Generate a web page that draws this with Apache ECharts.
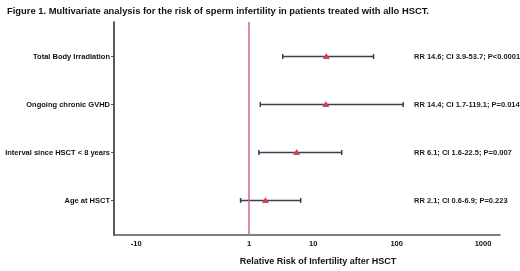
<!DOCTYPE html>
<html>
<head>
<meta charset="utf-8">
<script src="https://cdn.jsdelivr.net/npm/echarts@6/dist/echarts.min.js"></script>
<style>
  html, body { margin: 0; padding: 0; background: #fff; }
  #chart { width: 520px; height: 271px; }
</style>
</head>
<body>
<div id="chart"></div>
<script>
const factors = ['Total Body Irradiation', 'Ongoing chronic GVHD', 'Interval since HSCT < 8 years', 'Age at HSCT']
const rr = [14.6, 14.4, 6.1, 2.1]
const ciLow = [3.9, 1.7, 1.6, 0.6]
const ciHigh = [53.7, 119.1, 22.5, 6.9]
const notes = [
  'RR 14.6; CI 3.9-53.7; P<0.0001',
  'RR 14.4; CI 1.7-119.1; P=0.014',
  'RR 6.1; CI 1.6-22.5; P=0.007',
  'RR 2.1; CI 0.6-6.9; P=0.223'
]
const tickValues = [-0.9, 1, 10, 100, 1000]
const tickLabels = ['-10', '1', '10', '100', '1000']

// the source plot uses a log(x + 1) axis
const shift = v => v + 1
const FONT = 'Liberation Sans'
const NOTE_AT = 160

const chart = echarts.init(document.getElementById('chart'))

const rows = factors.map((f, i) => [shift(ciLow[i]), shift(rr[i]), shift(ciHigh[i]), i])

function renderItem(params, api) {
  const row = api.value(3)
  const lo = api.coord([api.value(0), row])
  const mid = api.coord([api.value(1), row])
  const hi = api.coord([api.value(2), row])
  const txt = api.coord([NOTE_AT, row])
  const cap = 2.5
  const s = 3.5
  const barStyle = { stroke: '#3a3f55', lineWidth: 1.5 }
  return {
    type: 'group',
    children: [
      { type: 'line', shape: { x1: lo[0], y1: lo[1], x2: hi[0], y2: hi[1] }, style: barStyle },
      { type: 'line', shape: { x1: lo[0], y1: lo[1] - cap, x2: lo[0], y2: lo[1] + cap }, style: barStyle },
      { type: 'line', shape: { x1: hi[0], y1: hi[1] - cap, x2: hi[0], y2: hi[1] + cap }, style: barStyle },
      {
        type: 'polygon',
        shape: { points: [[mid[0], mid[1] - s], [mid[0] - s, mid[1] + s * 0.7], [mid[0] + s, mid[1] + s * 0.7]] },
        style: { fill: '#d8404c' }
      },
      {
        type: 'text',
        x: txt[0],
        y: txt[1],
        style: {
          text: notes[params.dataIndex],
          fill: '#1a1a1a',
          font: 'bold 7.5px "' + FONT + '"',
          align: 'left',
          verticalAlign: 'middle'
        }
      }
    ]
  }
}

const option = {
  animation: false,
  title: {
    text: 'Figure 1. Multivariate analysis for the risk of sperm infertility in patients treated with allo HSCT.',
    left: 2,
    top: 2,
    textStyle: { fontFamily: FONT, fontSize: 9.4, fontWeight: 'bold', color: '#111' }
  },
  grid: { left: 114, right: 20, top: 22, bottom: 31 },
  xAxis: {
    type: 'log',
    min: 0.0555,
    max: 1571,
    name: 'Relative Risk of Infertility after HSCT',
    nameLocation: 'middle',
    nameGap: 22,
    nameTextStyle: { fontFamily: FONT, fontSize: 9, fontWeight: 'bold', color: '#111', padding: [0, 0, 0, 22] },
    axisLine: { onZero: false, lineStyle: { color: '#555', width: 1.5 } },
    axisTick: { show: false },
    splitLine: { show: false },
    axisLabel: {
      customValues: tickValues.map(shift),
      margin: 5,
      fontFamily: FONT,
      fontSize: 7.5,
      fontWeight: 'bold',
      color: '#111',
      formatter: v => {
        const i = tickValues.findIndex(t => Math.abs(shift(t) - v) < 1e-6 * Math.max(1, v))
        return i >= 0 ? tickLabels[i] : ''
      }
    }
  },
  yAxis: {
    type: 'value',
    inverse: true,
    min: -0.72,
    max: 3.72,
    axisLine: { show: true, onZero: false, lineStyle: { color: '#222', width: 1.5 } },
    axisTick: { show: true, customValues: [0, 1, 2, 3], length: 3, lineStyle: { color: '#555' } },
    splitLine: { show: false },
    axisLabel: {
      customValues: [0, 1, 2, 3],
      margin: 4,
      fontFamily: FONT,
      fontSize: 7.5,
      fontWeight: 'bold',
      color: '#111',
      formatter: v => factors[Math.round(v)]
    }
  },
  series: [{
    type: 'custom',
    renderItem,
    encode: { x: [0, 1, 2], y: 3 },
    data: rows,
    clip: false,
    markLine: {
      silent: true,
      symbol: 'none',
      label: { show: false },
      lineStyle: { color: '#c9688a', width: 1.5, type: 'solid' },
      data: [{ xAxis: shift(1) }]
    }
  }]
}

chart.setOption(option)
</script>
</body>
</html>
